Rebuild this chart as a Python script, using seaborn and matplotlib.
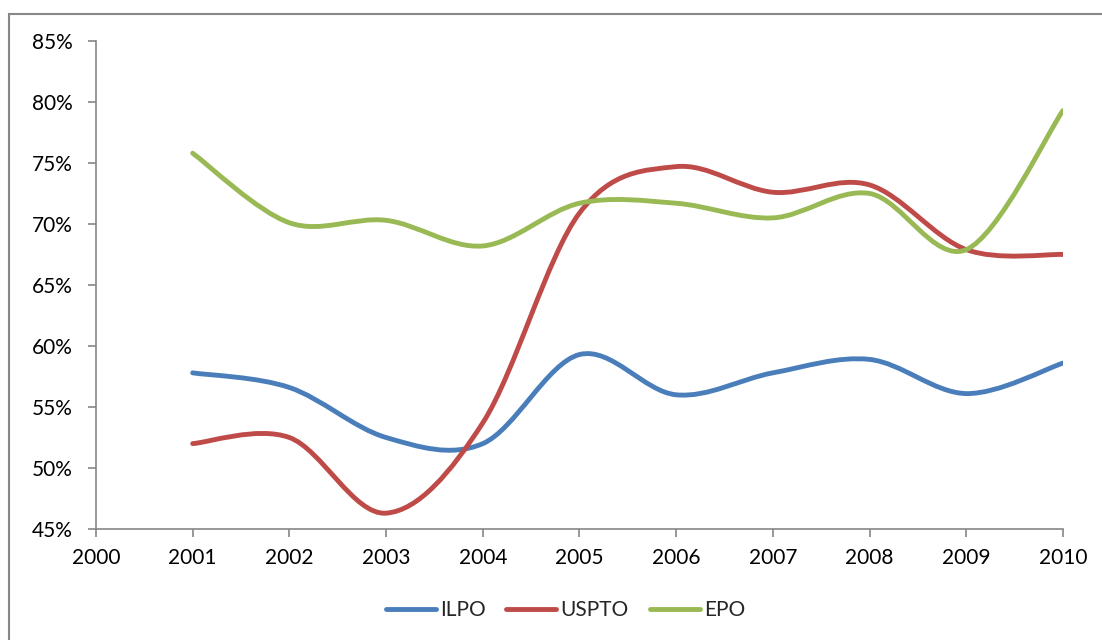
import matplotlib.pyplot as plt
import pandas as pd
import seaborn as sns
from matplotlib.lines import Line2D
from matplotlib.patches import PathPatch, Rectangle
from matplotlib.path import Path

years = [2001, 2002, 2003, 2004, 2005, 2006, 2007, 2008, 2009, 2010]
ilpo = [57.8, 56.6, 52.5, 52.0, 59.3, 56.0, 57.8, 58.9, 56.1, 58.6]
uspto = [52.0, 52.5, 46.3, 53.7, 70.9, 74.7, 72.6, 73.2, 67.9, 67.5]
epo = [75.8, 70.1, 70.3, 68.2, 71.7, 71.7, 70.5, 72.5, 67.9, 79.3]

offices = ["ILPO", "USPTO", "EPO"]
colors = {"ILPO": "#4A7EBB", "USPTO": "#BE4B48", "EPO": "#98B954"}
y_ticks = [45, 50, 55, 60, 65, 70, 75, 80, 85]
x_ticks = list(range(2000, 2011))

df = pd.DataFrame({
    "year": years * 3,
    "share": ilpo + uspto + epo,
    "office": [o for o in offices for _ in years],
})


def smooth_path(xs, ys):
    # excel style smoothed line: cubic bezier through every point
    pts = list(zip(xs, ys))
    verts = [pts[0]]
    codes = [Path.MOVETO]
    n = len(pts)
    for i in range(n - 1):
        p0 = pts[max(i - 1, 0)]
        p1 = pts[i]
        p2 = pts[i + 1]
        p3 = pts[min(i + 2, n - 1)]
        c1 = (p1[0] + (p2[0] - p0[0]) / 6, p1[1] + (p2[1] - p0[1]) / 6)
        c2 = (p2[0] - (p3[0] - p1[0]) / 6, p2[1] - (p3[1] - p1[1]) / 6)
        verts += [c1, c2, p2]
        codes += [Path.CURVE4] * 3
    return Path(verts, codes)


sns.set_style("white")
plt.rcParams["font.family"] = ["Lato", "DejaVu Sans"]

fig = plt.figure(figsize=(11.02, 6.4), dpi=100)
ax = fig.add_axes([0.0871, 0.1734, 0.8775, 0.7626])

sns.lineplot(data=df, x="year", y="share", hue="office", hue_order=offices,
             palette=colors, linewidth=3.5, legend=False, ax=ax)

for line in list(ax.lines):
    xs, ys = line.get_xdata(), line.get_ydata()
    patch = PathPatch(smooth_path(xs, ys), facecolor="none",
                      edgecolor=line.get_color(), linewidth=3.5,
                      capstyle="round", joinstyle="round")
    ax.add_patch(patch)
    line.remove()

ax.set_xlim(2000, 2010)
ax.set_ylim(45, 85)
ax.set_xticks(x_ticks)
ax.set_yticks(y_ticks)
ax.set_yticklabels([f"{t}%" for t in y_ticks])
ax.set_xlabel("")
ax.set_ylabel("")

for side in ["top", "right"]:
    ax.spines[side].set_visible(False)
for side in ["left", "bottom"]:
    ax.spines[side].set_color("#868686")
    ax.spines[side].set_linewidth(1.2)

ax.tick_params(axis="both", direction="out", length=6, width=1.2,
               color="#868686", labelsize=15, labelcolor="black",
               bottom=True, left=True)
ax.tick_params(axis="y", pad=11)
ax.tick_params(axis="x", pad=8)

handles = [Line2D([], [], color=colors[o], linewidth=3.5,
                  solid_capstyle="round") for o in offices]
fig.legend(handles, offices, loc="center", bbox_to_anchor=(0.513, 0.047),
           ncol=3, frameon=False, fontsize=15, handlelength=2.4,
           handletextpad=0.2, columnspacing=1.0)

fig.patches.append(Rectangle((0.0082, -0.1), 1.1, 0.1 + 0.9789,
                             transform=fig.transFigure, fill=False,
                             edgecolor="#878787", linewidth=1.5))

fig.savefig("out.png", dpi=100)
